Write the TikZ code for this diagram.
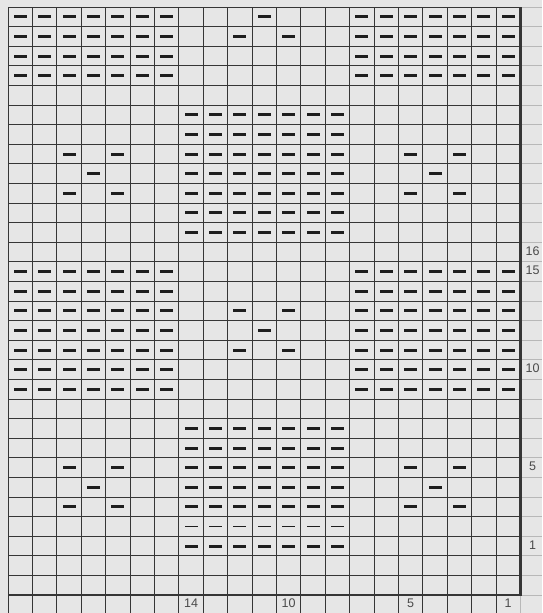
\documentclass[tikz,border=0pt]{standalone}
\usepackage{fontspec}
\setmainfont{Liberation Sans}
\definecolor{chartbg}{HTML}{E6E6E6}
\definecolor{gridc}{HTML}{363636}
\definecolor{lightgrid}{HTML}{B8B8B8}
\definecolor{purlc}{HTML}{1E1E1E}
\definecolor{numc}{HTML}{4A4A4A}

\begin{document}
\begin{tikzpicture}[x=1pt, y=-1pt,
    purl/.style={fill=purlc, minimum width=13pt, minimum height=3pt, inner sep=0pt, outer sep=0pt},
    thinpurl/.style={purl, minimum height=1.3pt},
    gridline/.style={draw=gridc, line width=1pt},
    softline/.style={draw=lightgrid, line width=1pt},
    edgeline/.style={draw=gridc, line width=2.6pt},
    num/.style={text=numc, font=\fontsize{12.5}{13}\selectfont, inner sep=0pt}]
        \useasboundingbox[fill=chartbg] (0,0) rectangle (542,613);

        % cells: 21 columns, 30 rows
        \foreach \r in {0,...,30}
            \foreach \c in {0,...,22}
                \coordinate (cell-\r-\c) at ({8+24.4*(\c+0.5)},{7+19.6*(\r+0.5)});

        % grid
        \foreach \i in {0,...,20}
            \draw[gridline] ({8+24.4*\i},7) -- ({8+24.4*\i},613);
        \foreach \j in {0,...,29}
            \draw[gridline] (8,{7+19.6*\j}) -- (520.4,{7+19.6*\j});
        \foreach \j in {0,...,30}
            \draw[softline] (520.4,{7+19.6*\j}) -- (542,{7+19.6*\j});
        \draw[softline] (520.4,595) -- (520.4,613);
        \draw[edgeline] (8,595) -- (520.4,595) -- (520.4,7);

        % purl blocks at the sides
        \foreach \r in {0,...,3,13,14,...,19}
            \foreach \c in {0,...,6,14,15,...,20}
                \node[purl] (p-\r-\c) at (cell-\r-\c) {};

        % purl blocks in the middle
        \foreach \r in {5,...,11,21,22,...,25,27}
            \foreach \c in {7,...,13}
                \node[purl] (p-\r-\c) at (cell-\r-\c) {};
        \foreach \c in {7,...,13}
            \node[thinpurl] (p-26-\c) at (cell-26-\c) {};

        % small diamonds
        \foreach \r/\c in {0/10, 1/9, 1/11, 15/9, 15/11, 16/10, 17/9, 17/11}
            \node[purl] (p-\r-\c) at (cell-\r-\c) {};
        \foreach \r in {7,9,23,25}
            \foreach \c in {2,4,16,18}
                \node[purl] (p-\r-\c) at (cell-\r-\c) {};
        \foreach \r in {8,24}
            \foreach \c in {3,17}
                \node[purl] (p-\r-\c) at (cell-\r-\c) {};

        % row numbers
        \foreach \n in {1,5,10,15,16}
            \node[num] (row-\n) at ([yshift=1pt]cell-\the\numexpr28-\n\relax-21) {\n};

        % column numbers
        \foreach \n in {1,5,10,14}
            \node[num] (col-\n) at ([yshift=1.5pt]cell-30-\the\numexpr21-\n\relax) {\n};
    \end{tikzpicture}
\end{document}
